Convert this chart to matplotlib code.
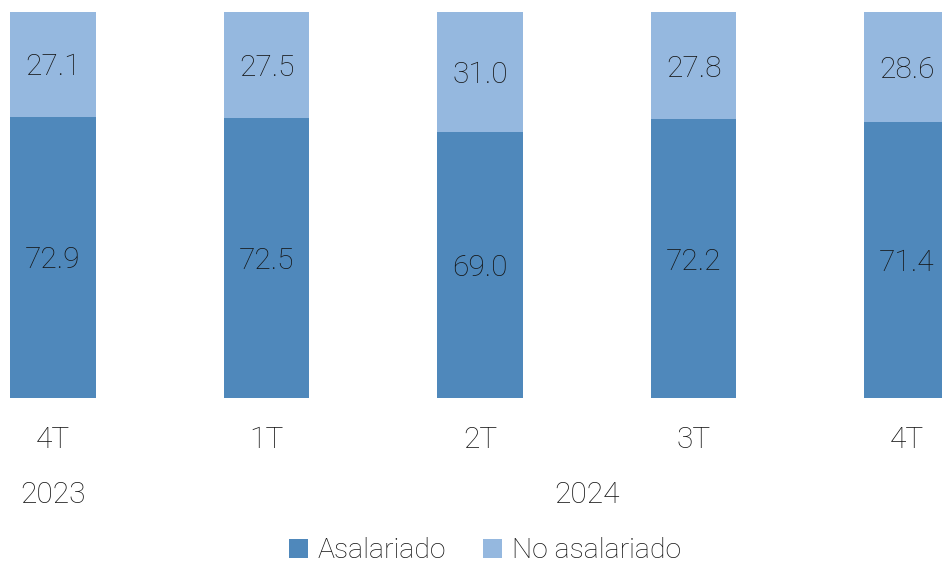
import matplotlib.pyplot as plt
from matplotlib.transforms import blended_transform_factory

quarters = ["4T", "1T", "2T", "3T", "4T"]
years = ["2023", "2024"]
year_groups = [[0], [1, 2, 3, 4]]
asalariado = [72.9, 72.5, 69.0, 72.2, 71.4]
no_asalariado = [27.1, 27.5, 31.0, 27.8, 28.6]

c_dark = "#4F88BB"
c_light = "#95B8DF"
txt = "#151515"
plt.rcParams["font.family"] = ["Roboto", "DejaVu Sans"]
plt.rcParams["font.weight"] = "light"

fig = plt.figure(figsize=(9.42, 5.64), dpi=100)
ax = fig.add_axes([0, 166 / 564, 1, 386 / 564])

x = list(range(len(quarters)))
w = 0.40
b1 = ax.bar(x, asalariado, w, color=c_dark, label="Asalariado")
b2 = ax.bar(x, no_asalariado, w, bottom=asalariado, color=c_light, label="No asalariado")

for i in x:
    ax.text(i, asalariado[i] / 2 - 0.8, f"{asalariado[i]:.1f}", ha="center", va="center",
            fontsize=21.5, color=txt)
    ax.text(i, asalariado[i] + no_asalariado[i] / 2 - 0.8, f"{no_asalariado[i]:.1f}",
            ha="center", va="center", fontsize=21.5, color=txt)

ax.set_xlim(-53 / 213.5, 889 / 213.5)
ax.set_ylim(0, 100)
ax.set_xticks(x)
ax.set_xticklabels(quarters, fontsize=21.5, color=txt)
ax.tick_params(axis="x", length=0, pad=20)
ax.set_yticks([])
for s in ax.spines.values():
    s.set_visible(False)

tr = blended_transform_factory(ax.transData, fig.transFigure)
for yr, grp in zip(years, year_groups):
    xc = (grp[0] + grp[-1]) / 2
    ax.text(xc, 1 - 495 / 564, yr, transform=tr, ha="center", va="center",
            fontsize=21.5, color=txt)

fig.legend(handles=[b1, b2], loc="center", bbox_to_anchor=(485 / 942, 1 - 551 / 564),
           ncol=2, frameon=False, fontsize=20.5, handlelength=0.65, handleheight=0.65,
           handletextpad=0.35, columnspacing=1.3, labelcolor=txt)

fig.savefig("out.png", dpi=100)
